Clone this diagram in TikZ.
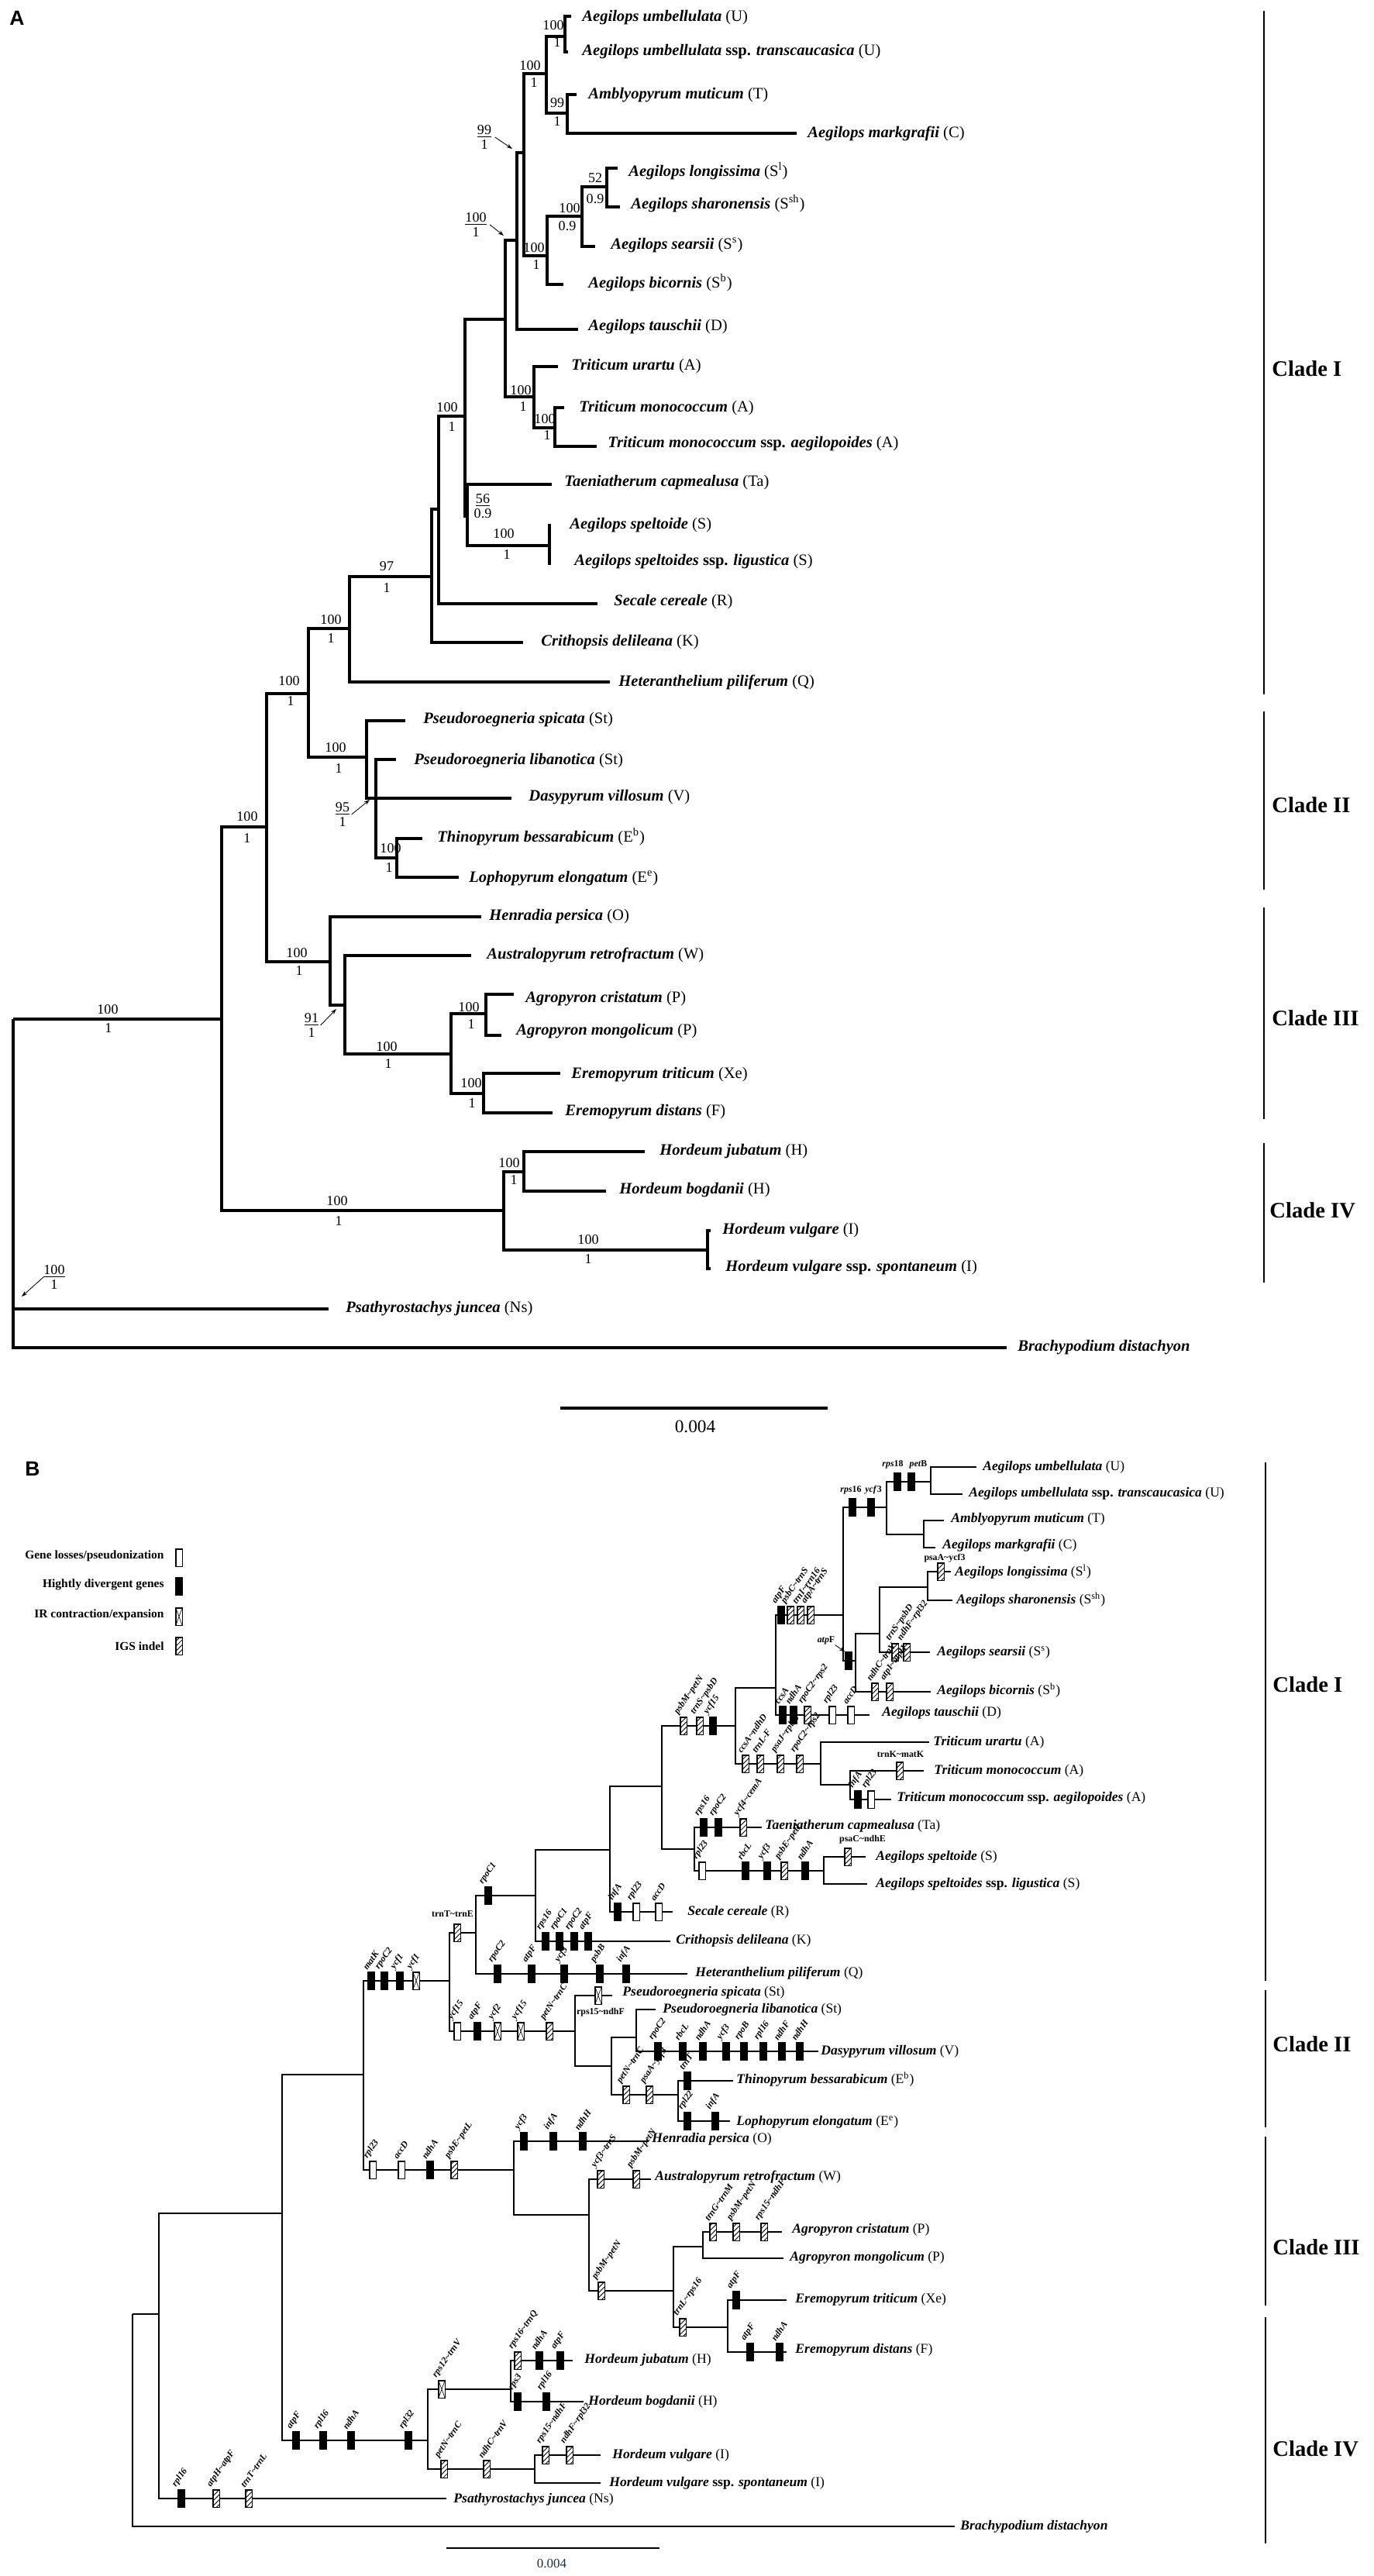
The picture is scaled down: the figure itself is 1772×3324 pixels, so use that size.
\documentclass[tikz,border=0pt]{standalone}
\usepackage{fontspec}
\setmainfont{Liberation Serif}
\newfontfamily\panelsans{Liberation Sans}
\usepackage{tikz}
\usetikzlibrary{arrows.meta,patterns}
\newcommand{\gsep}{\textasciitilde}

\begin{document}
\begin{tikzpicture}[x=0.4718pt,y=0.4718pt,yscale=-1,xscale=1,
    treeA/.style={line width=1.6pt},
    treeB/.style={line width=0.9pt},
    cladebar/.style={line width=1.3pt},
    spA/.style={anchor=west,inner sep=0pt,font=\fontsize{9.7}{11}\selectfont\bfseries\itshape},
    spB/.style={anchor=west,inner sep=0pt,font=\fontsize{8.3}{10}\selectfont\bfseries\itshape},
    supp/.style={inner sep=0pt,font=\fontsize{8.5}{9}\selectfont},
    frac/.style={inner sep=0pt,align=center,font=\fontsize{8.5}{8.8}\selectfont},
    clade/.style={anchor=west,inner sep=0pt,font=\fontsize{13.5}{15}\selectfont\bfseries},
    panel/.style={inner sep=0pt,font={\panelsans\bfseries\fontsize{12.5}{14}\selectfont}},
    pointer/.style={line width=0.4pt,-{Stealth[length=3.5pt,width=2.4pt]}},
    gbox/.style={draw,line width=0.5pt,minimum width=3.8pt,minimum height=10.4pt,inner sep=0pt},
    loss/.style={gbox,fill=white},
    diverg/.style={gbox,fill=black},
    irce/.style={gbox,fill=white,path picture={\draw[line width=0.3pt] (path picture bounding box.south west) -- (path picture bounding box.north east) (path picture bounding box.north west) -- (path picture bounding box.south east);}},
    igs/.style={gbox,preaction={fill=white},pattern=north east lines},
    genelab/.style={anchor=south west,rotate=55,inner sep=0.4pt,font=\fontsize{5.6}{6}\selectfont\bfseries\itshape},
    genehor/.style={inner sep=0pt,font=\fontsize{5.6}{6}\selectfont\bfseries},
    legtext/.style={anchor=east,inner sep=0pt,font=\fontsize{7.3}{8}\selectfont\bfseries},
    scalelab/.style={inner sep=0pt,font=\fontsize{11}{12}\selectfont}
  ]
\useasboundingbox (0,0) rectangle (1772,3324);

%%%%%%%%%%%%%%%%%%%%%%%%%%%%%%%% panel A
\node[panel] (pA) at (22,23) {A};

% inner nodes
\coordinate (aU) at (729,47);
\coordinate (aAM) at (732,146);
\coordinate (a1) at (705,95);
\coordinate (aSl) at (783,241);
\coordinate (aSs) at (751,279);
\coordinate (aS) at (706,330);
\coordinate (a2) at (676,197);
\coordinate (a3) at (667,310);
\coordinate (aTm) at (716,552);
\coordinate (aT) at (689,512);
\coordinate (a4) at (652,412);
\coordinate (aSp) at (709,704);
\coordinate (aQ) at (603,666);
\coordinate (a5) at (600,537);
\coordinate (a6) at (566,657);
\coordinate (a7) at (557,744);
\coordinate (a8) at (451,811);
\coordinate (aTh) at (512,1107);
\coordinate (a10) at (485,1030);
\coordinate (a9) at (473,977);
\coordinate (aC) at (398,895);
\coordinate (aAg) at (627,1308);
\coordinate (aEr) at (624,1411);
\coordinate (a13) at (582,1360);
\coordinate (a12) at (445,1297);
\coordinate (a11) at (426,1241);
\coordinate (aM) at (344,1067);
\coordinate (aHj) at (676,1512);
\coordinate (aHv) at (913,1613);
\coordinate (aH) at (650,1562);
\coordinate (aR) at (286,1315);
\coordinate (a0) at (17,1315);
% tips
\coordinate (tU1) at (737,21);
\coordinate (tU2) at (733,67);
\coordinate (tAm) at (744,122);
\coordinate (tMa) at (1028,172);
\coordinate (tLo) at (797,217);
\coordinate (tSh) at (800,267);
\coordinate (tSe) at (768,318);
\coordinate (tBi) at (727,367);
\coordinate (tTa) at (746,425);
\coordinate (tUr) at (720,473);
\coordinate (tMo) at (728,526);
\coordinate (tMoA) at (770,576);
\coordinate (tTc) at (712,625);
\coordinate (tSpe) at (711,678);
\coordinate (tSpl) at (711,727);
\coordinate (tSc) at (771,779);
\coordinate (tCr) at (675,829);
\coordinate (tHe) at (787,880);
\coordinate (tPs) at (523,930);
\coordinate (tPl) at (511,980);
\coordinate (tDa) at (660,1030);
\coordinate (tTh) at (545,1082);
\coordinate (tLe) at (592,1132);
\coordinate (tHp) at (621,1183);
\coordinate (tAu) at (608,1233);
\coordinate (tAc) at (663,1283);
\coordinate (tAmo) at (647,1336);
\coordinate (tEt) at (723,1385);
\coordinate (tEd) at (713,1436);
\coordinate (tHj) at (832,1486);
\coordinate (tHb) at (782,1537);
\coordinate (tHvu) at (917,1588);
\coordinate (tHvs) at (917,1637);
\coordinate (tPj) at (424,1689);
\coordinate (tBd) at (1299,1739);

%Straight Lines
\draw[treeA] (aU) |- (tU1) (aU) |- (tU2);
\draw[treeA] (aAM) |- (tAm) (aAM) |- (tMa);
\draw[treeA] (a1) |- (aU) (a1) |- (aAM);
\draw[treeA] (aSl) |- (tLo) (aSl) |- (tSh);
\draw[treeA] (aSs) |- (aSl) (aSs) |- (tSe);
\draw[treeA] (aS) |- (aSs) (aS) |- (tBi);
\draw[treeA] (a2) |- (a1) (a2) |- (aS);
\draw[treeA] (a3) |- (a2) (a3) |- (tTa);
\draw[treeA] (aTm) |- (tMo) (aTm) |- (tMoA);
\draw[treeA] (aT) |- (tUr) (aT) |- (aTm);
\draw[treeA] (a4) |- (a3) (a4) |- (aT);
\draw[treeA] (aSp) |- (tSpe) (aSp) |- (tSpl);
\draw[treeA] (aQ) |- (tTc) (aQ) |- (aSp);
\draw[treeA] (a5) |- (a4) (a5) |- (aQ);
\draw[treeA] (a6) |- (a5) (a6) |- (tSc);
\draw[treeA] (a7) |- (a6) (a7) |- (tCr);
\draw[treeA] (a8) |- (a7) (a8) |- (tHe);
\draw[treeA] (aTh) |- (tTh) (aTh) |- (tLe);
\draw[treeA] (a10) |- (tPl) (a10) |- (tDa) (a10) |- (aTh);
\draw[treeA] (a9) |- (tPs) (a9) |- (a10);
\draw[treeA] (aC) |- (a8) (aC) |- (a9);
\draw[treeA] (aAg) |- (tAc) (aAg) |- (tAmo);
\draw[treeA] (aEr) |- (tEt) (aEr) |- (tEd);
\draw[treeA] (a13) |- (aAg) (a13) |- (aEr);
\draw[treeA] (a12) |- (tAu) (a12) |- (a13);
\draw[treeA] (a11) |- (tHp) (a11) |- (a12);
\draw[treeA] (aM) |- (aC) (aM) |- (a11);
\draw[treeA] (aHj) |- (tHj) (aHj) |- (tHb);
\draw[treeA] (aHv) |- (tHvu) (aHv) |- (tHvs);
\draw[treeA] (aH) |- (aHj) (aH) |- (aHv);
\draw[treeA] (aR) |- (aM) (aR) |- (aH);
\draw[treeA] (a0) |- (aR) (a0) |- (tPj) (a0) |- (tBd);

% Text Node
\node[spA] (nU1) at (751,23) {Aegilops umbellulata {\normalfont (U)}};
\node[spA] (nU2) at (751,67) {Aegilops umbellulata {\upshape ssp.} transcaucasica {\normalfont (U)}};
\node[spA] (nAm) at (759,123) {Amblyopyrum muticum {\normalfont (T)}};
\node[spA] (nMa) at (1042,172) {Aegilops markgrafii {\normalfont (C)}};
\node[spA] (nLo) at (811,221) {Aegilops longissima {\normalfont (S\textsuperscript{l})}};
\node[spA] (nSh) at (814,263) {Aegilops sharonensis {\normalfont (S\textsuperscript{sh})}};
\node[spA] (nSe) at (788,316) {Aegilops searsii {\normalfont (S\textsuperscript{s})}};
\node[spA] (nBi) at (759,365) {Aegilops bicornis {\normalfont (S\textsuperscript{b})}};
\node[spA] (nTa) at (759,422) {Aegilops tauschii {\normalfont (D)}};
\node[spA] (nUr) at (737,473) {Triticum urartu {\normalfont (A)}};
\node[spA] (nMo) at (747,527) {Triticum monococcum {\normalfont (A)}};
\node[spA] (nMoA) at (784,573) {Triticum monococcum {\upshape ssp.} aegilopoides {\normalfont (A)}};
\node[spA] (nTc) at (728,623) {Taeniatherum capmealusa {\normalfont (Ta)}};
\node[spA] (nSpe) at (735,678) {Aegilops speltoide {\normalfont (S)}};
\node[spA] (nSpl) at (741,725) {Aegilops speltoides {\upshape ssp.} ligustica {\normalfont (S)}};
\node[spA] (nSc) at (792,777) {Secale cereale {\normalfont (R)}};
\node[spA] (nCr) at (698,829) {Crithopsis delileana {\normalfont (K)}};
\node[spA] (nHe) at (798,880) {Heteranthelium piliferum {\normalfont (Q)}};
\node[spA] (nPs) at (546,929) {Pseudoroegneria spicata {\normalfont (St)}};
\node[spA] (nPl) at (534,982) {Pseudoroegneria libanotica {\normalfont (St)}};
\node[spA] (nDa) at (682,1029) {Dasypyrum villosum {\normalfont (V)}};
\node[spA] (nTh) at (564,1080) {Thinopyrum bessarabicum {\normalfont (E\textsuperscript{b})}};
\node[spA] (nLe) at (605,1133) {Lophopyrum elongatum {\normalfont (E\textsuperscript{e})}};
\node[spA] (nHp) at (631,1183) {Henradia persica {\normalfont (O)}};
\node[spA] (nAu) at (628,1232) {Australopyrum retrofractum {\normalfont (W)}};
\node[spA] (nAc) at (678,1289) {Agropyron cristatum {\normalfont (P)}};
\node[spA] (nAmo) at (666,1331) {Agropyron mongolicum {\normalfont (P)}};
\node[spA] (nEt) at (737,1387) {Eremopyrum triticum {\normalfont (Xe)}};
\node[spA] (nEd) at (729,1435) {Eremopyrum distans {\normalfont (F)}};
\node[spA] (nHj) at (851,1486) {Hordeum jubatum {\normalfont (H)}};
\node[spA] (nHb) at (799,1536) {Hordeum bogdanii {\normalfont (H)}};
\node[spA] (nHvu) at (932,1588) {Hordeum vulgare {\normalfont (I)}};
\node[spA] (nHvs) at (936,1636) {Hordeum vulgare {\upshape ssp.} spontaneum {\normalfont (I)}};
\node[spA] (nPj) at (446,1689) {Psathyrostachys juncea {\normalfont (Ns)}};
\node[spA] (nBd) at (1313,1739) {Brachypodium distachyon};

% Text Node
\node[supp] (vU1) at (714,33) {100}; \node[supp] (vU2) at (719,55) {1};
\node[supp] (v11) at (684,85) {100}; \node[supp] (v12) at (689,107) {1};
\node[supp] (vAM1) at (719,133) {99}; \node[supp] (vAM2) at (719,157) {1};
\node[supp] (vS1) at (689,320) {100}; \node[supp] (vS2) at (692,342) {1};
\node[supp] (vSs1) at (735,269) {100}; \node[supp] (vSs2) at (732,292) {0.9};
\node[supp] (vSl1) at (768,230) {52}; \node[supp] (vSl2) at (768,257) {0.9};
\node[supp] (vT1) at (672,504) {100}; \node[supp] (vT2) at (675,525) {1};
\node[supp] (vTm1) at (703,541) {100}; \node[supp] (vTm2) at (706,562) {1};
\node[supp] (v51) at (577,526) {100}; \node[supp] (v52) at (583,551) {1};
\node[supp] (vSp1) at (650,689) {100}; \node[supp] (vSp2) at (654,716) {1};
\node[supp] (v71) at (499,731) {97}; \node[supp] (v72) at (499,759) {1};
\node[supp] (v81) at (427,800) {100}; \node[supp] (v82) at (427,824) {1};
\node[supp] (vC1) at (373,879) {100}; \node[supp] (vC2) at (375,905) {1};
\node[supp] (v91) at (433,965) {100}; \node[supp] (v92) at (437,992) {1};
\node[supp] (vTh1) at (504,1095) {100}; \node[supp] (vTh2) at (502,1120) {1};
\node[supp] (vM1) at (319,1054) {100}; \node[supp] (vM2) at (319,1082) {1};
\node[supp] (v111) at (383,1230) {100}; \node[supp] (v112) at (386,1253) {1};
\node[supp] (v131) at (499,1351) {100}; \node[supp] (v132) at (501,1373) {1};
\node[supp] (vAg1) at (605,1300) {100}; \node[supp] (vAg2) at (608,1322) {1};
\node[supp] (vEr1) at (608,1398) {100}; \node[supp] (vEr2) at (609,1424) {1};
\node[supp] (vR1) at (139,1303) {100}; \node[supp] (vR2) at (140,1327) {1};
\node[supp] (vHj1) at (657,1501) {100}; \node[supp] (vHj2) at (663,1523) {1};
\node[supp] (vH1) at (435,1550) {100}; \node[supp] (vH2) at (437,1576) {1};
\node[supp] (vHv1) at (759,1600) {100}; \node[supp] (vHv2) at (759,1625) {1};

% fractions with pointers
\node[frac] (fr1) at (625,177) {\underline{99}\\1};
\node[frac] (fr2) at (614,290) {\underline{100}\\1};
\node[frac] (fr3) at (623,653) {\underline{56}\\0.9};
\node[frac] (fr4) at (442,1051) {\underline{95}\\1};
\node[frac] (fr5) at (402,1323) {\underline{91}\\1};
\node[frac] (fr6) at (70,1648) {\underline{100}\\1};
\coordinate (q1) at (661,192);
\coordinate (q2) at (650,304);
\coordinate (q4) at (477,1032);
\coordinate (q5) at (434,1302);
\coordinate (q6) at (28,1673);
\draw[pointer] ([xshift=2pt]fr1.east) -- (q1);
\draw[pointer] ([xshift=2pt]fr2.east) -- (q2);
\draw[pointer] ([xshift=1pt]fr4.east) -- (q4);
\draw[pointer] ([xshift=1pt]fr5.east) -- (q5);
\draw[pointer] (fr6.west) -- (q6);

% clades
\coordinate (kA1) at (1631,14); \coordinate (kA2) at (1631,896);
\coordinate (kA3) at (1631,918); \coordinate (kA4) at (1631,1148);
\coordinate (kA5) at (1631,1171); \coordinate (kA6) at (1631,1444);
\coordinate (kA7) at (1631,1475); \coordinate (kA8) at (1631,1655);
\draw[cladebar] (kA1) -- (kA2) (kA3) -- (kA4) (kA5) -- (kA6) (kA7) -- (kA8);
\node[clade] (cA1) at (1641,476) {Clade I};
\node[clade] (cA2) at (1641,1039) {Clade II};
\node[clade] (cA3) at (1641,1314) {Clade III};
\node[clade] (cA4) at (1638,1562) {Clade IV};

% scale bar
\coordinate (sA1) at (723,1817); \coordinate (sA2) at (1068,1817);
\draw[treeA] (sA1) -- (sA2);
\node[scalelab] (sAl) at (897,1841) {0.004};

%%%%%%%%%%%%%%%%%%%%%%%%%%%%%%%% panel B
\node[panel] (pB) at (42,1895) {B};

% legend
\node[legtext] (lg1) at (212,2008) {Gene losses/pseudonization};
\node[legtext] (lg2) at (212,2045) {Hightly divergent genes};
\node[legtext] (lg3) at (212,2084) {IR contraction/expansion};
\node[legtext] (lg4) at (212,2124) {IGS indel};
\node[loss] (lk1) at (231,2010) {};
\node[diverg] (lk2) at (231,2047) {};
\node[irce] (lk3) at (231,2086) {};
\node[igs] (lk4) at (231,2124) {};

% inner nodes
\coordinate (bU) at (1201,1912);
\coordinate (bAM) at (1192,1980);
\coordinate (b1) at (1144,1945);
\coordinate (bSl) at (1197,2048);
\coordinate (bSs) at (1135,2108);
\coordinate (bS) at (1104,2143);
\coordinate (b2) at (1088,2084);
\coordinate (b3) at (1001,2178);
\coordinate (bTm) at (1097,2303);
\coordinate (bT) at (1059,2276);
\coordinate (b4) at (949,2227);
\coordinate (bSp) at (1063,2414);
\coordinate (bTa) at (896,2386);
\coordinate (b5) at (854,2305);
\coordinate (b6) at (787,2387);
\coordinate (b7) at (691,2446);
\coordinate (b8) at (614,2494);
\coordinate (bTh) at (875,2703);
\coordinate (bLi) at (821,2629);
\coordinate (b13) at (789,2666);
\coordinate (b12) at (742,2621);
\coordinate (b9) at (580,2556);
\coordinate (bAg) at (907,2899);
\coordinate (bEr) at (939,3003);
\coordinate (b16) at (869,2956);
\coordinate (b15) at (760,2858);
\coordinate (b14) at (663,2800);
\coordinate (b10) at (469,2677);
\coordinate (bHj) at (659,3083);
\coordinate (bHv) at (690,3186);
\coordinate (bH) at (552,3149);
\coordinate (b11) at (364,2856);
\coordinate (bPs) at (205,2986);
\coordinate (b0) at (171,2986);
% tips
\coordinate (sU1) at (1260,1893);
\coordinate (sU2) at (1242,1928);
\coordinate (sAm) at (1218,1962);
\coordinate (sMa) at (1207,1997);
\coordinate (sLo) at (1227,2028);
\coordinate (sSh) at (1229,2065);
\coordinate (sSe) at (1200,2132);
\coordinate (sBi) at (1201,2183);
\coordinate (sTa) at (1122,2213);
\coordinate (sUr) at (1199,2248);
\coordinate (sMo) at (1192,2285);
\coordinate (sMoA) at (1150,2322);
\coordinate (sTc) at (983,2358);
\coordinate (sSpe) at (1117,2396);
\coordinate (sSpl) at (1119,2431);
\coordinate (sSc) at (868,2467);
\coordinate (sCr) at (865,2505);
\coordinate (sHe) at (887,2547);
\coordinate (sPs) at (790,2575);
\coordinate (sPl) at (846,2593);
\coordinate (sDa) at (1056,2647);
\coordinate (sTh) at (946,2685);
\coordinate (sLe) at (942,2737);
\coordinate (sHp) at (837,2763);
\coordinate (sAu) at (840,2812);
\coordinate (sAc) at (1009,2880);
\coordinate (sAmo) at (1011,2914);
\coordinate (sEt) at (1015,2968);
\coordinate (sEd) at (1015,3035);
\coordinate (sHj) at (739,3046);
\coordinate (sHb) at (753,3099);
\coordinate (sHvu) at (775,3168);
\coordinate (sHvs) at (775,3204);
\coordinate (sPj) at (576,3224);
\coordinate (sBd) at (1232,3260);

%Straight Lines
\draw[treeB] (bU) |- (sU1) (bU) |- (sU2);
\draw[treeB] (bAM) |- (sAm) (bAM) |- (sMa);
\draw[treeB] (b1) |- (bU) (b1) |- (bAM);
\draw[treeB] (bSl) |- (sLo) (bSl) |- (sSh);
\draw[treeB] (bSs) |- (bSl) (bSs) |- (sSe);
\draw[treeB] (bS) |- (bSs) (bS) |- (sBi);
\draw[treeB] (b2) |- (b1) (b2) |- (bS);
\draw[treeB] (b3) |- (b2) (b3) |- (sTa);
\draw[treeB] (bTm) |- (sMo) (bTm) |- (sMoA);
\draw[treeB] (bT) |- (sUr) (bT) |- (bTm);
\draw[treeB] (b4) |- (b3) (b4) |- (bT);
\draw[treeB] (bSp) |- (sSpe) (bSp) |- (sSpl);
\draw[treeB] (bTa) |- (sTc) (bTa) |- (bSp);
\draw[treeB] (b5) |- (b4) (b5) |- (bTa);
\draw[treeB] (b6) |- (b5) (b6) |- (sSc);
\draw[treeB] (b7) |- (b6) (b7) |- (sCr);
\draw[treeB] (b8) |- (b7) (b8) |- (sHe);
\draw[treeB] (bTh) |- (sTh) (bTh) |- (sLe);
\draw[treeB] (bLi) |- (sPl) (bLi) |- (sDa);
\draw[treeB] (b13) |- (bLi) (b13) |- (bTh);
\draw[treeB] (b12) |- (sPs) (b12) |- (b13);
\draw[treeB] (b9) |- (b8) (b9) |- (b12);
\draw[treeB] (bAg) |- (sAc) (bAg) |- (sAmo);
\draw[treeB] (bEr) |- (sEt) (bEr) |- (sEd);
\draw[treeB] (b16) |- (bAg) (b16) |- (bEr);
\draw[treeB] (b15) |- (sAu) (b15) |- (b16);
\draw[treeB] (b14) |- (sHp) (b14) |- (b15);
\draw[treeB] (b10) |- (b9) (b10) |- (b14);
\draw[treeB] (bHj) |- (sHj) (bHj) |- (sHb);
\draw[treeB] (bHv) |- (sHvu) (bHv) |- (sHvs);
\draw[treeB] (bH) |- (bHj) (bH) |- (bHv);
\draw[treeB] (b11) |- (b10) (b11) |- (bH);
\draw[treeB] (bPs) |- (b11) (bPs) |- (sPj);
\draw[treeB] (b0) |- (bPs) (b0) |- (sBd);

% Text Node
\node[spB] (mU1) at (1268,1893) {Aegilops umbellulata {\normalfont (U)}};
\node[spB] (mU2) at (1250,1927) {Aegilops umbellulata {\upshape ssp.} transcaucasica {\normalfont (U)}};
\node[spB] (mAm) at (1227,1960) {Amblyopyrum muticum {\normalfont (T)}};
\node[spB] (mMa) at (1216,1994) {Aegilops markgrafii {\normalfont (C)}};
\node[spB] (mLo) at (1232,2028) {Aegilops longissima {\normalfont (S\textsuperscript{l})}};
\node[spB] (mSh) at (1234,2064) {Aegilops sharonensis {\normalfont (S\textsuperscript{sh})}};
\node[spB] (mSe) at (1209,2132) {Aegilops searsii {\normalfont (S\textsuperscript{s})}};
\node[spB] (mBi) at (1209,2181) {Aegilops bicornis {\normalfont (S\textsuperscript{b})}};
\node[spB] (mTa) at (1138,2210) {Aegilops tauschii {\normalfont (D)}};
\node[spB] (mUr) at (1204,2248) {Triticum urartu {\normalfont (A)}};
\node[spB] (mMo) at (1205,2285) {Triticum monococcum {\normalfont (A)}};
\node[spB] (mMoA) at (1157,2320) {Triticum monococcum {\upshape ssp.} aegilopoides {\normalfont (A)}};
\node[spB] (mTc) at (987,2356) {Taeniatherum capmealusa {\normalfont (Ta)}};
\node[spB] (mSpe) at (1130,2396) {Aegilops speltoide {\normalfont (S)}};
\node[spB] (mSpl) at (1130,2431) {Aegilops speltoides {\upshape ssp.} ligustica {\normalfont (S)}};
\node[spB] (mSc) at (887,2467) {Secale cereale {\normalfont (R)}};
\node[spB] (mCr) at (872,2504) {Crithopsis delileana {\normalfont (K)}};
\node[spB] (mHe) at (897,2546) {Heteranthelium piliferum {\normalfont (Q)}};
\node[spB] (mPs) at (803,2571) {Pseudoroegneria spicata {\normalfont (St)}};
\node[spB] (mPl) at (855,2593) {Pseudoroegneria libanotica {\normalfont (St)}};
\node[spB] (mDa) at (1059,2647) {Dasypyrum villosum {\normalfont (V)}};
\node[spB] (mTh) at (950,2683) {Thinopyrum bessarabicum {\normalfont (E\textsuperscript{b})}};
\node[spB] (mLe) at (950,2738) {Lophopyrum elongatum {\normalfont (E\textsuperscript{e})}};
\node[spB] (mHp) at (841,2760) {Henradia persica {\normalfont (O)}};
\node[spB] (mAu) at (845,2809) {Australopyrum retrofractum {\normalfont (W)}};
\node[spB] (mAc) at (1022,2877) {Agropyron cristatum {\normalfont (P)}};
\node[spB] (mAmo) at (1019,2913) {Agropyron mongolicum {\normalfont (P)}};
\node[spB] (mEt) at (1026,2967) {Eremopyrum triticum {\normalfont (Xe)}};
\node[spB] (mEd) at (1026,3032) {Eremopyrum distans {\normalfont (F)}};
\node[spB] (mHj) at (754,3045) {Hordeum jubatum {\normalfont (H)}};
\node[spB] (mHb) at (759,3099) {Hordeum bogdanii {\normalfont (H)}};
\node[spB] (mHvu) at (790,3168) {Hordeum vulgare {\normalfont (I)}};
\node[spB] (mHvs) at (786,3204) {Hordeum vulgare {\upshape ssp.} spontaneum {\normalfont (I)}};
\node[spB] (mPj) at (585,3225) {Psathyrostachys juncea {\normalfont (Ns)}};
\node[spB] (mBd) at (1239,3260) {Brachypodium distachyon};

% gene markers, clade I
\node[diverg] (g1) at (1158,1912) {}; \node[genehor] (g1t) at (1152,1890) {\textit{rps}18};
\node[diverg] (g2) at (1176,1912) {}; \node[genehor] (g2t) at (1185,1890) {\textit{pet}B};
\node[diverg] (g3) at (1100,1945) {}; \node[genehor] (g3t) at (1098,1923) {\textit{rps}16};
\node[diverg] (g4) at (1124,1945) {}; \node[genehor] (g4t) at (1127,1923) {\textit{ycf}3};
\node[igs] (g5) at (1214,2028) {}; \node[genehor] (g5t) at (1219,2011) {psaA\gsep ycf3};
\node[igs] (g6) at (1155,2132) {}; \node[genelab] (g6t) at (g6.north west) {trnS\gsep psbD};
\node[igs] (g7) at (1170,2132) {}; \node[genelab] (g7t) at (g7.north west) {ndhF\gsep rpl32};
\node[igs] (g8) at (1129,2183) {}; \node[genelab] (g8t) at (g8.north west) {ndhC\gsep trnV};
\node[igs] (g9) at (1148,2183) {}; \node[genelab] (g9t) at (g9.north west) {atpI\gsep atpH};
\node[diverg] (g10) at (1095,2143) {}; \node[genehor] (g10t) at (1066,2117) {\textit{atp}F};
\draw[pointer] (g10t.south east) -- (g10.north west);
\node[diverg] (g11) at (1008,2084) {}; \node[genelab] (g11t) at (g11.north west) {atpF};
\node[igs] (g12) at (1020,2084) {}; \node[genelab] (g12t) at (g12.north west) {psbC\gsep trnS};
\node[igs] (g13) at (1033,2084) {}; \node[genelab] (g13t) at (g13.north west) {trnI\gsep rrn16};
\node[igs] (g14) at (1046,2084) {}; \node[genelab] (g14t) at (g14.north west) {atpA\gsep trnS};
\node[diverg] (g15) at (1010,2213) {}; \node[genelab] (g15t) at (g15.north west) {ccsA};
\node[diverg] (g16) at (1024,2213) {}; \node[genelab] (g16t) at (g16.north west) {ndhA};
\node[igs] (g17) at (1042,2213) {}; \node[genelab] (g17t) at (g17.north west) {rpoC2\gsep rps2};
\node[loss] (g18) at (1074,2213) {}; \node[genelab] (g18t) at (g18.north west) {rpl23};
\node[loss] (g19) at (1098,2213) {}; \node[genelab] (g19t) at (g19.north west) {accD};
\node[igs] (g20) at (882,2227) {}; \node[genelab] (g20t) at (g20.north west) {psbM\gsep petN};
\node[igs] (g21) at (903,2227) {}; \node[genelab] (g21t) at (g21.north west) {trnS\gsep psbD};
\node[diverg] (g22) at (920,2227) {}; \node[genelab] (g22t) at (g22.north west) {ycf15};
\node[igs] (g23) at (962,2276) {}; \node[genelab] (g23t) at (g23.north west) {ccsA\gsep ndhD};
\node[igs] (g24) at (981,2276) {}; \node[genelab] (g24t) at (g24.north west) {trnL-F};
\node[igs] (g25) at (1007,2276) {}; \node[genelab] (g25t) at (g25.north west) {psaJ\gsep rpl33};
\node[igs] (g26) at (1032,2276) {}; \node[genelab] (g26t) at (g26.north west) {rpoC2\gsep rps2};
\node[igs] (g27) at (1161,2285) {}; \node[genehor] (g27t) at (1162,2264) {trnK\gsep matK};
\node[diverg] (g28) at (1107,2322) {}; \node[genelab] (g28t) at (g28.north west) {infA};
\node[loss] (g29) at (1124,2322) {}; \node[genelab] (g29t) at (g29.north west) {rpl23};
\node[diverg] (g30) at (908,2358) {}; \node[genelab] (g30t) at (g30.north west) {rps16};
\node[diverg] (g31) at (927,2358) {}; \node[genelab] (g31t) at (g31.north west) {rpoC2};
\node[igs] (g32) at (959,2358) {}; \node[genelab] (g32t) at (g32.north west) {ycf4\gsep cemA};
\node[loss] (g33) at (906,2414) {}; \node[genelab] (g33t) at (g33.north west) {rpl23};
\node[diverg] (g34) at (962,2414) {}; \node[genelab] (g34t) at (g34.north west) {rbcL};
\node[diverg] (g35) at (990,2414) {}; \node[genelab] (g35t) at (g35.north west) {ycf3};
\node[igs] (g36) at (1012,2414) {}; \node[genelab] (g36t) at (g36.north west) {psbE\gsep petL};
\node[diverg] (g37) at (1039,2414) {}; \node[genelab] (g37t) at (g37.north west) {ndhA};
\node[igs] (g38) at (1094,2396) {}; \node[genehor] (g38t) at (1113,2374) {psaC\gsep ndhE};
\node[diverg] (g39) at (797,2467) {}; \node[genelab] (g39t) at (g39.north west) {infA};
\node[loss] (g40) at (821,2467) {}; \node[genelab] (g40t) at (g40.north west) {rpl23};
\node[loss] (g41) at (850,2467) {}; \node[genelab] (g41t) at (g41.north west) {accD};
\node[diverg] (g42) at (704,2505) {}; \node[genelab] (g42t) at (g42.north west) {rps16};
\node[diverg] (g43) at (722,2505) {}; \node[genelab] (g43t) at (g43.north west) {rpoC1};
\node[diverg] (g44) at (741,2505) {}; \node[genelab] (g44t) at (g44.north west) {rpoC2};
\node[diverg] (g45) at (759,2505) {}; \node[genelab] (g45t) at (g45.north west) {atpF};
\node[diverg] (g46) at (630,2446) {}; \node[genelab] (g46t) at (g46.north west) {rpoC1};
\node[diverg] (g47) at (642,2547) {}; \node[genelab] (g47t) at (g47.north west) {rpoC2};
\node[diverg] (g48) at (686,2547) {}; \node[genelab] (g48t) at (g48.north west) {atpF};
\node[diverg] (g49) at (728,2547) {}; \node[genelab] (g49t) at (g49.north west) {ycf3};
\node[diverg] (g50) at (774,2547) {}; \node[genelab] (g50t) at (g50.north west) {psbB};
\node[diverg] (g51) at (808,2547) {}; \node[genelab] (g51t) at (g51.north west) {infA};
\node[igs] (g52) at (590,2494) {}; \node[genehor] (g52t) at (584,2470) {trnT\gsep trnE};
\node[diverg] (g53) at (479,2556) {}; \node[genelab] (g53t) at (g53.north west) {matK};
\node[diverg] (g54) at (496,2556) {}; \node[genelab] (g54t) at (g54.north west) {rpoC2};
\node[diverg] (g55) at (516,2556) {}; \node[genelab] (g55t) at (g55.north west) {ycf1};
\node[irce] (g56) at (537,2556) {}; \node[genelab] (g56t) at (g56.north west) {ycf1};
% gene markers, clade II
\node[loss] (g57) at (590,2621) {}; \node[genelab] (g57t) at (g57.north west) {ycf15};
\node[diverg] (g58) at (616,2621) {}; \node[genelab] (g58t) at (g58.north west) {atpF};
\node[irce] (g59) at (642,2621) {}; \node[genelab] (g59t) at (g59.north west) {ycf2};
\node[irce] (g60) at (672,2621) {}; \node[genelab] (g60t) at (g60.north west) {ycf15};
\node[igs] (g61) at (709,2621) {}; \node[genelab] (g61t) at (g61.north west) {petN\gsep trnC};
\node[irce] (g62) at (772,2575) {}; \node[genehor] (g62t) at (775,2597) {rps15\gsep ndhF};
\node[diverg] (g63) at (849,2647) {}; \node[genelab] (g63t) at (g63.north west) {rpoC2};
\node[diverg] (g64) at (881,2647) {}; \node[genelab] (g64t) at (g64.north west) {rbcL};
\node[diverg] (g65) at (907,2647) {}; \node[genelab] (g65t) at (g65.north west) {ndhA};
\node[diverg] (g66) at (937,2647) {}; \node[genelab] (g66t) at (g66.north west) {ycf3};
\node[diverg] (g67) at (960,2647) {}; \node[genelab] (g67t) at (g67.north west) {rpoB};
\node[diverg] (g68) at (985,2647) {}; \node[genelab] (g68t) at (g68.north west) {rpl16};
\node[diverg] (g69) at (1009,2647) {}; \node[genelab] (g69t) at (g69.north west) {ndhF};
\node[diverg] (g70) at (1032,2647) {}; \node[genelab] (g70t) at (g70.north west) {ndhH};
\node[igs] (g71) at (808,2703) {}; \node[genelab] (g71t) at (g71.north west) {petN\gsep trnC};
\node[igs] (g72) at (838,2703) {}; \node[genelab] (g72t) at (g72.north west) {psaA\gsep ycf3};
\node[diverg] (g73) at (887,2685) {}; \node[genelab] (g73t) at (g73.north west) {trnT};
\node[diverg] (g74) at (887,2737) {}; \node[genelab] (g74t) at (g74.north west) {rpl22};
\node[diverg] (g75) at (923,2737) {}; \node[genelab] (g75t) at (g75.north west) {infA};
% gene markers, clade III
\node[loss] (g76) at (481,2800) {}; \node[genelab] (g76t) at (g76.north west) {rpl23};
\node[loss] (g77) at (518,2800) {}; \node[genelab] (g77t) at (g77.north west) {accD};
\node[diverg] (g78) at (555,2800) {}; \node[genelab] (g78t) at (g78.north west) {ndhA};
\node[igs] (g79) at (586,2800) {}; \node[genelab] (g79t) at (g79.north west) {psbE\gsep petL};
\node[diverg] (g80) at (676,2763) {}; \node[genelab] (g80t) at (g80.north west) {ycf3};
\node[diverg] (g81) at (714,2763) {}; \node[genelab] (g81t) at (g81.north west) {infA};
\node[diverg] (g82) at (752,2763) {}; \node[genelab] (g82t) at (g82.north west) {ndhH};
\node[igs] (g83) at (775,2812) {}; \node[genelab] (g83t) at (g83.north west) {ycf3\gsep trnS};
\node[igs] (g84) at (821,2812) {}; \node[genelab] (g84t) at (g84.north west) {psbM\gsep petN};
\node[igs] (g85) at (776,2956) {}; \node[genelab] (g85t) at (g85.north west) {psbM\gsep petN};
\node[igs] (g86) at (920,2880) {}; \node[genelab] (g86t) at (g86.north west) {trnG\gsep trnM};
\node[igs] (g87) at (950,2880) {}; \node[genelab] (g87t) at (g87.north west) {psbM\gsep petN};
\node[igs] (g88) at (986,2880) {}; \node[genelab] (g88t) at (g88.north west) {rps15\gsep ndhF};
\node[igs] (g89) at (881,3003) {}; \node[genelab] (g89t) at (g89.north west) {trnL\gsep rps16};
\node[diverg] (g90) at (950,2968) {}; \node[genelab] (g90t) at (g90.north west) {atpF};
\node[diverg] (g91) at (968,3035) {}; \node[genelab] (g91t) at (g91.north west) {atpF};
\node[diverg] (g92) at (1006,3035) {}; \node[genelab] (g92t) at (g92.north west) {ndhA};
% gene markers, clade IV and outgroup
\node[diverg] (g93) at (382,3149) {}; \node[genelab] (g93t) at (g93.north west) {atpF};
\node[diverg] (g94) at (417,3149) {}; \node[genelab] (g94t) at (g94.north west) {rpl16};
\node[diverg] (g95) at (453,3149) {}; \node[genelab] (g95t) at (g95.north west) {ndhA};
\node[diverg] (g96) at (527,3149) {}; \node[genelab] (g96t) at (g96.north west) {rpl32};
\node[irce] (g97) at (570,3083) {}; \node[genelab] (g97t) at (g97.north west) {rps12\gsep trnV};
\node[igs] (g98) at (668,3046) {}; \node[genelab] (g98t) at (g98.north west) {rps16\gsep trnQ};
\node[diverg] (g99) at (696,3046) {}; \node[genelab] (g99t) at (g99.north west) {ndhA};
\node[diverg] (g100) at (723,3046) {}; \node[genelab] (g100t) at (g100.north west) {atpF};
\node[diverg] (g101) at (668,3099) {}; \node[genelab] (g101t) at (g101.north west) {rps3};
\node[diverg] (g102) at (705,3099) {}; \node[genelab] (g102t) at (g102.north west) {rpl16};
\node[igs] (g103) at (573,3186) {}; \node[genelab] (g103t) at (g103.north west) {petN\gsep trnC};
\node[igs] (g104) at (628,3186) {}; \node[genelab] (g104t) at (g104.north west) {ndhC\gsep trnV};
\node[igs] (g105) at (704,3168) {}; \node[genelab] (g105t) at (g105.north west) {rps15\gsep ndhF};
\node[igs] (g106) at (735,3168) {}; \node[genelab] (g106t) at (g106.north west) {ndhF\gsep rpl32};
\node[diverg] (g107) at (234,3224) {}; \node[genelab] (g107t) at (g107.north west) {rpl16};
\node[igs] (g108) at (279,3224) {}; \node[genelab] (g108t) at (g108.north west) {atpH\gsep atpF};
\node[igs] (g109) at (321,3224) {}; \node[genelab] (g109t) at (g109.north west) {trnT\gsep trnL};

% clades
\coordinate (kB1) at (1633,1887); \coordinate (kB2) at (1633,2556);
\coordinate (kB3) at (1633,2568); \coordinate (kB4) at (1633,2745);
\coordinate (kB5) at (1633,2757); \coordinate (kB6) at (1633,2975);
\coordinate (kB7) at (1633,2990); \coordinate (kB8) at (1633,3282);
\draw[cladebar] (kB1) -- (kB2) (kB3) -- (kB4) (kB5) -- (kB6) (kB7) -- (kB8);
\node[clade] (cB1) at (1642,2174) {Clade I};
\node[clade] (cB2) at (1642,2638) {Clade II};
\node[clade] (cB3) at (1642,2900) {Clade III};
\node[clade] (cB4) at (1642,3160) {Clade IV};

% scale bar
\coordinate (sB1) at (576,3288); \coordinate (sB2) at (851,3288);
\draw[treeB] (sB1) -- (sB2);
\node[scalelab,font=\fontsize{8}{9}\selectfont,text={rgb,255:red,30;green,45;blue,80}] (sBl) at (712,3308) {0.004};
\end{tikzpicture}
\end{document}
